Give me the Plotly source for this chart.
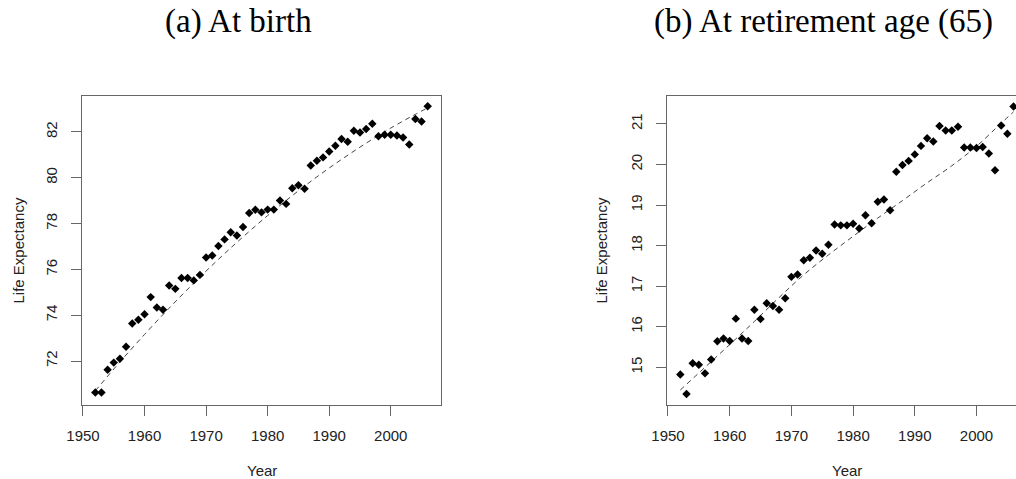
import plotly.graph_objects as go

years = list(range(1952, 2007))
birth = [70.63, 70.63, 71.62, 71.93, 72.10, 72.62, 73.64, 73.80, 74.04, 74.79,
         74.34, 74.24, 75.30, 75.15, 75.62, 75.62, 75.52, 75.76, 76.52, 76.61,
         77.02, 77.31, 77.62, 77.48, 77.85, 78.46, 78.60, 78.49, 78.61, 78.61,
         79.01, 78.86, 79.54, 79.67, 79.52, 80.54, 80.74, 80.89, 81.15, 81.40,
         81.69, 81.57, 82.05, 81.98, 82.13, 82.36, 81.81, 81.88, 81.88, 81.85,
         81.76, 81.45, 82.57, 82.46, 83.12]
retire = [14.82, 14.34, 15.10, 15.06, 14.85, 15.19, 15.64, 15.71, 15.65, 16.20,
          15.71, 15.65, 16.42, 16.19, 16.58, 16.51, 16.42, 16.70, 17.23, 17.29,
          17.64, 17.70, 17.88, 17.80, 18.02, 18.52, 18.50, 18.50, 18.54, 18.42,
          18.75, 18.55, 19.08, 19.14, 18.87, 19.82, 19.99, 20.09, 20.25, 20.46,
          20.65, 20.57, 20.95, 20.84, 20.84, 20.93, 20.42, 20.42, 20.41, 20.43,
          20.27, 19.86, 20.96, 20.76, 21.43]

trend_years = [1952, 1956, 1960, 1964, 1968, 1972, 1976, 1980, 1984, 1988, 1992, 1996, 2000, 2004, 2006]
trend_birth = [70.70, 71.96, 73.16, 74.31, 75.40, 76.44, 77.42, 78.35, 79.22, 80.04, 80.80, 81.51, 82.17, 82.77, 83.05]
trend_retire = [14.44, 15.00, 15.56, 16.13, 16.72, 17.28, 17.77, 18.23, 18.68, 19.11, 19.55, 19.97, 20.45, 21.02, 21.30]

x_ticks = [1950, 1960, 1970, 1980, 1990, 2000]
y_ticks_birth = [72, 74, 76, 78, 80, 82]
y_ticks_retire = [15, 16, 17, 18, 19, 20, 21]

titles = ["(a) At birth", "(b) At retirement age (65)"]
x_title = "Year"
y_title = "Life Expectancy"

W, H = 1016, 479
AX = "#666666"
FONT = "Liberation Sans, Arial, sans-serif"

fig = go.Figure()

for i, (vals, tr) in enumerate([(birth, trend_birth), (retire, trend_retire)]):
    xa = "x" if i == 0 else "x2"
    ya = "y" if i == 0 else "y2"
    fig.add_trace(go.Scatter(x=trend_years, y=tr, mode="lines", xaxis=xa, yaxis=ya,
                             line=dict(color="#444444", width=1, dash="5px,4px", shape="spline"),
                             showlegend=False, hoverinfo="skip"))
    fig.add_trace(go.Scatter(x=years, y=vals, mode="markers", xaxis=xa, yaxis=ya,
                             marker=dict(symbol="diamond", size=6.5, color="black",
                                         line=dict(width=0)),
                             cliponaxis=False, showlegend=False))

# panel geometry in pixels
top, bottom = 96, 405
l1, r1 = 82, 441
l2 = 667

def xd(px):
    return px / W

def yd(py):
    return 1 - py / H

common_x = dict(showgrid=False, zeroline=False, showline=True, linecolor=AX, linewidth=1,
                ticks="outside", ticklen=10, tickcolor=AX, tickwidth=1, automargin=False,
                tickvals=x_ticks, tickfont=dict(family=FONT, size=15, color="#222"),
                ticklabelstandoff=7)
common_y = dict(showgrid=False, zeroline=False, showline=True, linecolor=AX, linewidth=1,
                ticks="outside", ticklen=10, tickcolor=AX, tickwidth=1, tickangle=-90,
                automargin=False,
                tickfont=dict(family=FONT, size=15, color="#222"), ticklabelstandoff=8)

fig.update_layout(
    width=W, height=H, margin=dict(l=0, r=0, t=0, b=0, autoexpand=False),
    paper_bgcolor="white", plot_bgcolor="white",
    xaxis=dict(domain=[xd(l1), xd(r1)], range=[1949.84, 2008.16], anchor="y", mirror=True, **common_x),
    yaxis=dict(domain=[yd(bottom), yd(top)], range=[70.08, 83.57], anchor="x", mirror=True,
               tickvals=y_ticks_birth, **common_y),
    xaxis2=dict(domain=[xd(l2), 1.0], range=[1949.84, 2006.4], anchor="y2", mirror=True, **common_x),
    yaxis2=dict(domain=[yd(bottom), yd(top)], range=[14.07, 21.69], anchor="x2", mirror=False,
                tickvals=y_ticks_retire, **common_y),
)

ann = []
for cx, t in [(238, titles[0]), (823, titles[1])]:
    ann.append(dict(x=xd(cx), y=yd(22), xref="paper", yref="paper", text=t, showarrow=False,
                    xanchor="center", yanchor="middle",
                    font=dict(family="Liberation Serif, Times New Roman, serif", size=33, color="black")))
for cx in [(l1 + r1) / 2, 847]:
    ann.append(dict(x=xd(cx), y=yd(470), xref="paper", yref="paper", text=x_title, showarrow=False,
                    xanchor="center", yanchor="middle", font=dict(family=FONT, size=15, color="#222")))
for cx in [18, 601]:
    ann.append(dict(x=xd(cx), y=yd((top + bottom) / 2), xref="paper", yref="paper", text=y_title,
                    showarrow=False, textangle=-90, xanchor="center", yanchor="middle",
                    font=dict(family=FONT, size=15, color="#222")))
fig.update_layout(annotations=ann)

fig.write_html("out.html", config={"displayModeBar": False},
               post_script="document.body.style.margin='0';document.body.style.overflow='hidden';")
